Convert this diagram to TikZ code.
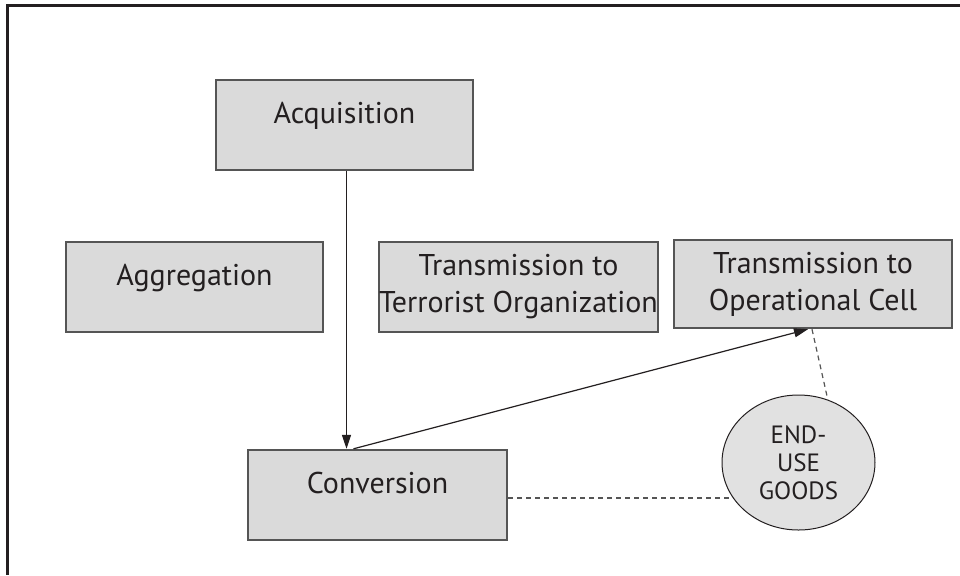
\documentclass[tikz,border=0pt]{standalone}
\usepackage{fontspec}
\setmainfont{PT Sans}
\usetikzlibrary{arrows.meta}
\usetikzlibrary{shapes.geometric}
\usetikzlibrary{backgrounds}
\definecolor{boxfill}{HTML}{DADADA}
\definecolor{ellfill}{HTML}{E1E1E1}
\definecolor{boxline}{HTML}{555555}
\definecolor{ink}{HTML}{231F20}
\tikzset{
	stage/.style={draw=boxline, line width=1.2pt, fill=boxfill, text=ink, inner sep=0pt,
		align=center, font=\fontsize{15}{18.5}\selectfont},
	oneline/.style={text height=11pt, text depth=13pt},
	enduse/.style={ellipse, draw=ink, line width=0.5pt, fill=ellfill, text=ink, inner sep=0pt,
		align=center, font=\fontsize{12.5}{14}\selectfont, minimum width=76.5pt, minimum height=67.5pt},
	flow/.style={-{Triangle[length=7pt, width=4.5pt]}, line width=0.6pt, draw=ink},
	link/.style={dash pattern=on 2.5pt off 2pt, line width=0.6pt, draw=boxline},
}

\begin{document}
\begin{tikzpicture}[x=0.5pt, y=-0.5pt]
\useasboundingbox (0,0) rectangle (960,575);

% outer frame, top and left only
\draw[line width=1.5pt, draw=ink] (960,5) -- (7,5) -- (7,575);

\node[stage, oneline, minimum width=128.5pt, minimum height=45pt] (acq) at (344.5,125) {Acquisition};
\node[stage, oneline, minimum width=128.5pt, minimum height=45pt] (agg) at (194.5,287) {Aggregation};
\node[stage, minimum width=135.5pt, minimum height=45pt] (tto) at (518.5,287) {Transmission to\\Terrorist Organization};
\node[stage, minimum width=139pt, minimum height=44pt] (toc) at (813,284) {Transmission to\\Operational Cell};
\node[stage, oneline, minimum width=129.5pt, minimum height=45pt] (conv) at (377.5,495) {Conversion};
\node[enduse] (goods) at (798.5,462.5) {END-\\USE\\GOODS};

\draw[flow] ([xshift=1pt]acq.south) -- ([xshift=1pt]acq.south |- conv.north);
\draw[flow] ([xshift=-12pt]conv.north) -- ([xshift=-2.5pt]toc.south);

\begin{scope}[on background layer]
\draw[link] ([yshift=-1.5pt]conv.east) -- ([yshift=-1.5pt]conv.east -| goods);
\end{scope}
\draw[link] ([xshift=-0.5pt]toc.south) -- (goods.65);
\end{tikzpicture}
\end{document}
